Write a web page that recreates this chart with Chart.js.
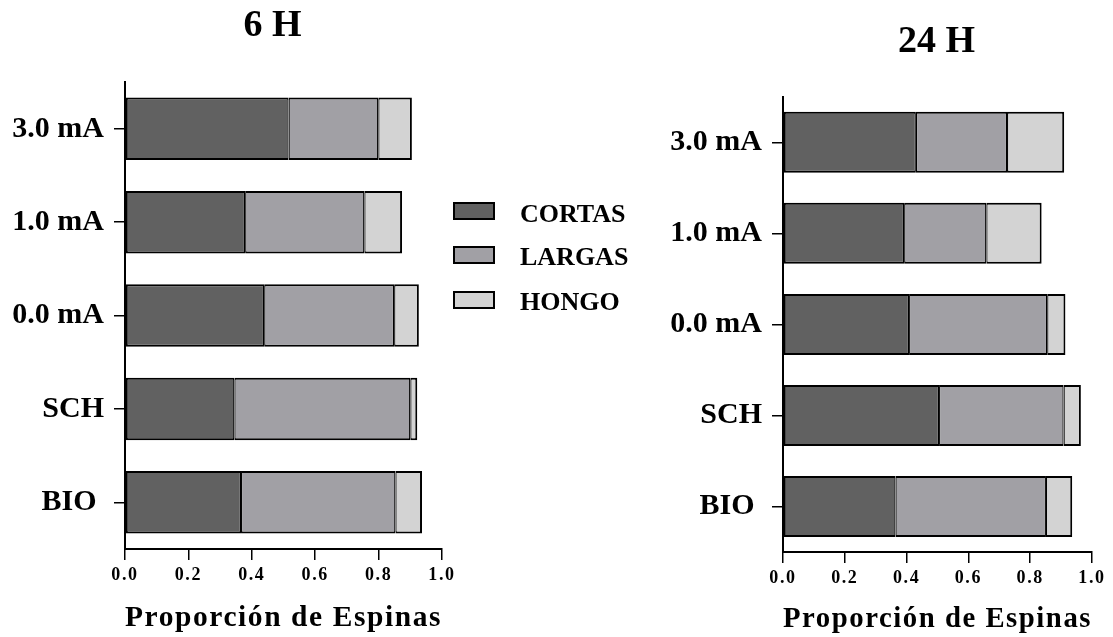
<!DOCTYPE html>
<html>
<head>
<meta charset="utf-8">
<title>Proporción de Espinas</title>
<script src="https://cdn.jsdelivr.net/npm/chart.js@4.4.1/dist/chart.umd.min.js"></script>
<style>
  html, body { margin: 0; padding: 0; background: #fff; overflow: hidden; }
  body { width: 1113px; height: 637px; position: relative; }
  canvas { position: absolute; top: 0; }
  #chart6  { left: 0; }
  #chart24 { left: 660px; }
  .leg-box  { position: absolute; left: 453px; width: 42px; height: 18px; border: 2px solid #000; box-sizing: border-box; }
  .leg-text { position: absolute; left: 520px; font: bold 26px "Liberation Serif", "Times New Roman", serif; line-height: 26px; color: #000; white-space: nowrap; }
</style>
</head>
<body>
<canvas id="chart6" width="545" height="637"></canvas>
<canvas id="chart24" width="553" height="637"></canvas>
<div id="legend"></div>

<script>
// ── Data ───────────────────────────────────────────────
const categories = ['3.0 mA', '1.0 mA', '0.0 mA', 'SCH', 'BIO '];
const seriesNames = ['CORTAS', 'LARGAS', 'HONGO'];
const seriesColors = ['#616161', '#a1a0a5', '#d3d3d3'];

const cortas6  = [0.516, 0.379, 0.439, 0.345, 0.366];
const largas6  = [0.283, 0.376, 0.410, 0.555, 0.487];
const hongo6   = [0.106, 0.119, 0.078, 0.022, 0.084];

const cortas24 = [0.430, 0.392, 0.408, 0.505, 0.364];
const largas24 = [0.295, 0.266, 0.447, 0.403, 0.487];
const hongo24  = [0.185, 0.179, 0.059, 0.056, 0.085];

const xTicksMin = 0, xTicksMax = 1, xTicksStep = 0.2;

// ── Defaults ───────────────────────────────────────────
Chart.defaults.font.family = '"Liberation Serif", "Times New Roman", serif';
Chart.defaults.font.weight = 'bold';
Chart.defaults.color = '#000';

// x-axis text in the reference is letter-spaced; the x axis layers are drawn after the bars (z: 1)
const xLetterSpacing = {
  id: 'xLetterSpacing',
  afterDatasetsDraw(chart) { chart.ctx.letterSpacing = '1.6px'; },
  afterDraw(chart) { chart.ctx.letterSpacing = '0px'; },
};

// inner borders split between neighbouring segments so the shared edge looks like one line
const segBorders = [
  { top: 2, bottom: 2, left: 2, right: 1.25 },
  { top: 2, bottom: 2, left: 1.25, right: 1.25 },
  { top: 2, bottom: 2, left: 1.25, right: 2 },
];

function makeDatasets(series) {
  return series.map((data, i) => ({
    label: seriesNames[i], data,
    backgroundColor: seriesColors[i], borderColor: '#000',
    borderWidth: segBorders[i], borderSkipped: false,
    barPercentage: 0.67, categoryPercentage: 1,
  }));
}

function makeChart(id, title, series, g) {
  return new Chart(document.getElementById(id), {
    type: 'bar',
    data: { labels: categories, datasets: makeDatasets(series) },
    plugins: [xLetterSpacing],
    options: {
      indexAxis: 'y',
      responsive: false, animation: false, devicePixelRatio: 1,
      layout: { padding: 0 },
      plugins: {
        legend:  { display: false },
        tooltip: { enabled: false },
        title: { display: true, text: title, color: '#000',
          font: { size: 38, weight: 'bold' }, padding: { top: g.titleTop, bottom: g.titleBottom } },
      },
      scales: {
        x: {
          type: 'linear', stacked: true, min: xTicksMin, max: xTicksMax,
          grid:   { drawOnChartArea: false, tickLength: 11, color: '#000', lineWidth: 1.5, z: 1 },
          border: { color: '#000', width: 2, z: 1 },
          ticks:  { stepSize: xTicksStep, padding: 5, z: 1, maxRotation: 0, autoSkip: false,
                    font: { size: 18, weight: 'bold' }, callback: v => v.toFixed(1) },
          title:  { display: true, text: 'Proporción de Espinas', color: '#000',
                    font: { size: 30, weight: 'bold' }, padding: { top: 0, bottom: g.xTitleBottom } },
          afterFit(scale) { scale.height = g.xHeight; scale.paddingRight = g.rightSpace; },
        },
        y: {
          type: 'category', stacked: true, offset: true,
          grid:   { drawOnChartArea: false, offset: false, tickLength: 11, color: '#000', lineWidth: 1.5 },
          border: { color: '#000', width: 2 },
          ticks:  { padding: 10, font: { size: 30, weight: 'bold' } },
          afterFit(scale) { scale.width = g.yWidth; },
        },
      },
    },
  });
}

makeChart('chart6', '6 H', [cortas6, largas6, hongo6],
  { titleTop: 3.5, titleBottom: 33, xHeight: 88, xTitleBottom: 1, rightSpace: 103, yWidth: 125 });
makeChart('chart24', '24 H', [cortas24, largas24, hongo24],
  { titleTop: 19.7, titleBottom: 31.5, xHeight: 85, xTitleBottom: 0, rightSpace: 121, yWidth: 123 });

// ── Shared legend between the two panels ──────────────
const legendBoxTops  = [202, 246, 291];
const legendTextTops = [200.5, 244.2, 289];
document.getElementById('legend').innerHTML = seriesNames.map((name, i) => `
  <div class="leg-box" style="top:${legendBoxTops[i]}px;background:${seriesColors[i]}"></div>
  <div class="leg-text" style="top:${legendTextTops[i]}px">${name}</div>`).join('');
</script>
</body>
</html>
